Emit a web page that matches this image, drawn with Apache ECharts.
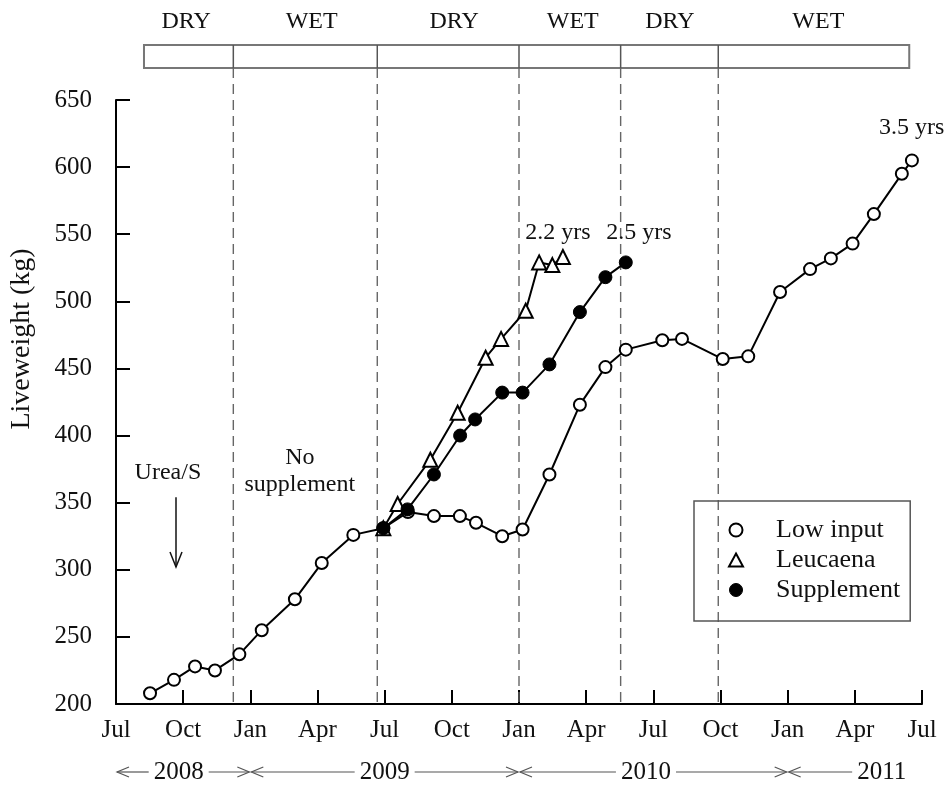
<!DOCTYPE html>
<html>
<head>
<meta charset="utf-8">
<script src="https://cdn.jsdelivr.net/npm/echarts@6/dist/echarts.min.js"></script>
<style>
html,body{margin:0;padding:0;background:#fff;}
#chart{width:946px;height:785px;}
</style>
</head>
<body>
<div id="chart"></div>
<script>
// ---- data (x = months since 1 Jul 2008) ----
const tickLabels = ['Jul','Oct','Jan','Apr','Jul','Oct','Jan','Apr','Jul','Oct','Jan','Apr','Jul'];

const lowMonths  = [1.52, 2.59, 3.53, 4.42, 5.51, 6.51, 7.99, 9.19, 10.6, 11.94, 13.04, 14.2, 15.36, 16.08, 17.25, 18.16, 19.36, 20.72, 21.86, 22.77, 24.4, 25.28, 27.1, 28.24, 29.66, 31.0, 31.93, 32.9, 33.85, 35.1, 35.55];
const lowWeights = [208, 218, 228, 225, 237, 255, 278, 305, 326, 331, 343, 340, 340, 335, 325, 330, 371, 423, 451, 464, 471, 472, 457, 459, 507, 524, 532, 543, 565, 595, 605];

const leuMonths  = [11.94, 12.58, 14.04, 15.26, 16.51, 17.2, 18.3, 18.9, 19.49, 19.96];
const leuWeights = [331, 349, 382, 417, 458, 472, 493, 529, 527, 533];

const supMonths  = [11.94, 13.02, 14.2, 15.37, 16.04, 17.25, 18.16, 19.36, 20.72, 21.86, 22.77];
const supWeights = [331, 345, 371, 400, 412, 432, 432, 453, 492, 518, 529];

const seasonEdges = [1.25, 5.24, 11.67, 18.0, 22.54, 26.9, 35.43];
const seasonLabels = ['DRY', 'WET', 'DRY', 'WET', 'DRY', 'WET'];
const seasonLabelMonths = [3.13, 8.74, 15.1, 20.4, 24.74, 31.37];

const yearNames = ['2008', '2009', '2010', '2011'];
const yearSpans = [[0, 6], [6, 18], [18, 30], [30, 36]];
const yearLabelMonths = [2.8, 12.0, 23.67, 34.2];
const yearRightArrow = [true, true, true, false];

const notes = [
  {text: '2.2 yrs', m: 19.74, v: 551},
  {text: '2.5 yrs', m: 23.36, v: 551},
  {text: '3.5 yrs', m: 35.54, v: 629},
  {text: 'Urea/S', m: 2.32, v: 372},
  {text: 'No', m: 8.21, v: 383.5},
  {text: 'supplement', m: 8.21, v: 363.5}
];
const ureaArrow = {m: 2.68, vFrom: 354, vTo: 302};

// ---- chart ----
const FONT = '"Liberation Serif", "Times New Roman", serif';
const chart = echarts.init(document.getElementById('chart'), null, {renderer: 'canvas'});

function pairs(xs, ys) { return xs.map((x, i) => [x, ys[i]]); }

const axisCommon = {
  axisLine: {show: true, lineStyle: {color: '#000', width: 2}},
  axisTick: {show: true, inside: true, length: 14, lineStyle: {color: '#000', width: 2}},
  splitLine: {show: false}
};

const option = {
  animation: false,
  backgroundColor: '#fff',
  grid: {left: 116, right: 24, top: 100, bottom: 81, containLabel: false},
  xAxis: Object.assign({
    type: 'value', min: 0, max: 36, interval: 3,
    axisLabel: {
      formatter: v => tickLabels[Math.round(v / 3)],
      fontFamily: FONT, fontSize: 25, color: '#111', margin: 14
    }
  }, axisCommon),
  yAxis: Object.assign({
    type: 'value', min: 200, max: 650, interval: 50,
    axisLabel: {fontFamily: FONT, fontSize: 25, color: '#111', margin: 24}
  }, axisCommon),
  legend: {
    orient: 'vertical', left: 694, top: 501,
    padding: [16, 10, 18, 34],
    itemGap: 4, itemWidth: 14, itemHeight: 13,
    borderColor: '#555', borderWidth: 1.5,
    textStyle: {fontFamily: FONT, fontSize: 26, color: '#111', lineHeight: 26, padding: [0, 0, 0, 28]},
    data: [
      {name: 'Low input', icon: 'circle', itemStyle: {color: '#fff', borderColor: '#000', borderWidth: 2}},
      {name: 'Leucaena', icon: 'triangle', itemStyle: {color: '#fff', borderColor: '#000', borderWidth: 2}},
      {name: 'Supplement', icon: 'circle', itemStyle: {color: '#000', borderColor: '#000', borderWidth: 1}}
    ]
  },
  series: [
    {
      name: 'Low input', type: 'line', data: pairs(lowMonths, lowWeights),
      symbol: 'circle', symbolSize: 12, z: 3,
      lineStyle: {color: '#000', width: 2},
      itemStyle: {color: '#fff', borderColor: '#000', borderWidth: 2}
    },
    {
      name: 'Leucaena', type: 'line', data: pairs(leuMonths, leuWeights),
      symbol: 'triangle', symbolSize: 14, z: 4,
      lineStyle: {color: '#000', width: 2},
      itemStyle: {color: '#fff', borderColor: '#000', borderWidth: 2}
    },
    {
      name: 'Supplement', type: 'line', data: pairs(supMonths, supWeights),
      symbol: 'circle', symbolSize: 13, z: 5,
      lineStyle: {color: '#000', width: 2},
      itemStyle: {color: '#000', borderColor: '#000', borderWidth: 1}
    }
  ]
};
chart.setOption(option);

// ---- decorations positioned through the axes ----
function px(m, v) { return chart.convertToPixel({gridIndex: 0}, [m, v]); }
const measureCtx = document.createElement('canvas').getContext('2d');
function textWidth(t, size) { measureCtx.font = size + 'px ' + FONT; return measureCtx.measureText(t).width; }

const g = [];
const yBase = px(0, 200)[1];
const boxTop = 45, boxBottom = 68;
const boxL = px(seasonEdges[0], 200)[0];
const boxR = px(seasonEdges[seasonEdges.length - 1], 200)[0];

// season box
g.push({type: 'rect', shape: {x: boxL, y: boxTop, width: boxR - boxL, height: boxBottom - boxTop},
  style: {fill: 'none', stroke: '#777', lineWidth: 2}, z: 1});
for (let i = 1; i < seasonEdges.length - 1; i++) {
  const x = px(seasonEdges[i], 200)[0];
  g.push({type: 'line', shape: {x1: x, y1: boxTop, x2: x, y2: boxBottom}, style: {stroke: '#555', lineWidth: 1.5}, z: 1});
  g.push({type: 'line', shape: {x1: x, y1: boxBottom, x2: x, y2: yBase},
    style: {stroke: '#666', lineWidth: 1.4, lineDash: [10, 6]}, z: 1});
}
seasonLabels.forEach((t, i) => {
  const x = px(seasonLabelMonths[i], 200)[0];
  g.push({type: 'text', x: x, y: 22, style: {text: t, font: '24px ' + FONT, fill: '#111', align: 'center', verticalAlign: 'middle'}, z: 2});
});

// y axis title
g.push({type: 'text', x: 22, y: 339, rotation: Math.PI / 2,
  style: {text: 'Liveweight (kg)', font: '28px ' + FONT, fill: '#111', align: 'center', verticalAlign: 'middle'}, z: 2});

// year row
const yr = 772;
yearNames.forEach((name, i) => {
  const xs = px(yearSpans[i][0], 200)[0];
  const xe = px(yearSpans[i][1], 200)[0];
  const xc = px(yearLabelMonths[i], 200)[0];
  const hw = textWidth(name, 25) / 2 + 5;
  g.push({type: 'text', x: xc, y: yr, style: {text: name, font: '25px ' + FONT, fill: '#111', align: 'center', verticalAlign: 'middle'}, z: 2});
  g.push({type: 'line', shape: {x1: xs + 1, y1: yr, x2: xc - hw, y2: yr}, style: {stroke: '#555', lineWidth: 1.2}, z: 2});
  g.push({type: 'polyline', shape: {points: [[xs + 13, yr - 5], [xs + 1, yr], [xs + 13, yr + 5]]}, style: {stroke: '#555', fill: 'none', lineWidth: 1.2}, z: 2});
  if (yearRightArrow[i]) {
    g.push({type: 'line', shape: {x1: xc + hw, y1: yr, x2: xe - 1, y2: yr}, style: {stroke: '#555', lineWidth: 1.2}, z: 2});
    g.push({type: 'polyline', shape: {points: [[xe - 13, yr - 5], [xe - 1, yr], [xe - 13, yr + 5]]}, style: {stroke: '#555', fill: 'none', lineWidth: 1.2}, z: 2});
  }
});

// annotations
notes.forEach(n => {
  const p = px(n.m, n.v);
  g.push({type: 'text', x: p[0], y: p[1], style: {text: n.text, font: '24px ' + FONT, fill: '#111', align: 'center', verticalAlign: 'middle'}, z: 2});
});
const a1 = px(ureaArrow.m, ureaArrow.vFrom), a2 = px(ureaArrow.m, ureaArrow.vTo);
g.push({type: 'line', shape: {x1: a1[0], y1: a1[1], x2: a2[0], y2: a2[1]}, style: {stroke: '#111', lineWidth: 1.5}, z: 2});
g.push({type: 'polyline', shape: {points: [[a2[0] - 6, a2[1] - 15], [a2[0], a2[1]], [a2[0] + 6, a2[1] - 15]]}, style: {stroke: '#111', fill: 'none', lineWidth: 1.5}, z: 2});

chart.setOption({graphic: g});
</script>
</body>
</html>
